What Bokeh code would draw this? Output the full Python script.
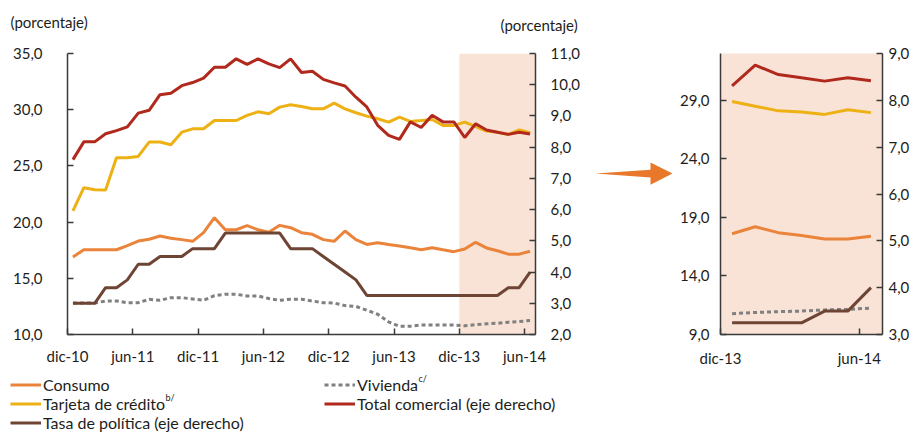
import numpy as np
from bokeh.plotting import figure
from bokeh.models import (Range1d, LinearAxis, FixedTicker, CustomJSTickFormatter, BoxAnnotation,
                          Legend, LegendItem, ColumnDataSource)
from bokeh.core.properties import value
from bokeh.layouts import row, column
from bokeh.embed import file_html
from bokeh.resources import INLINE

# ---------------- data (monthly, dic-10 .. jun-14) ----------------
tick_labels = ["dic-10", "jun-11", "dic-11", "jun-12", "dic-12", "jun-13", "dic-13", "jun-14"]
zoom_tick_labels = ["dic-13", "jun-14"]

consumo = [16.9, 17.54, 17.54, 17.54, 17.54, 17.9, 18.31, 18.47, 18.76, 18.56, 18.44, 18.29, 19.06,
           20.39, 19.32, 19.32, 19.68, 19.32, 19.09, 19.71, 19.5, 19.06, 18.91, 18.44, 18.29, 19.21,
           18.44, 18.01, 18.16, 18.01, 17.87, 17.72, 17.54, 17.72, 17.54, 17.37, 17.6, 18.2, 17.7,
           17.45, 17.15, 17.15, 17.4]
tarjeta = [21.0, 23.06, 22.88, 22.85, 25.72, 25.72, 25.84, 27.12, 27.12, 26.88, 28.0, 28.3, 28.3,
           29.04, 29.04, 29.04, 29.49, 29.81, 29.64, 30.23, 30.44, 30.29, 30.08, 30.08, 30.58, 30.08,
           29.73, 29.43, 29.19, 28.89, 29.34, 28.96, 29.04, 29.13, 28.6, 28.6, 28.9, 28.5, 28.1,
           28.0, 27.8, 28.2, 27.95]
vivienda = [12.8, 12.8, 12.8, 12.98, 12.98, 12.83, 12.83, 13.13, 13.04, 13.28, 13.28, 13.16, 13.04,
            13.46, 13.58, 13.58, 13.43, 13.43, 13.2, 13.04, 13.14, 13.13, 12.98, 12.83, 12.8, 12.57,
            12.5, 12.16, 11.8, 11.12, 10.73, 10.73, 10.85, 10.85, 10.85, 10.85, 10.78, 10.88, 10.95,
            11.0, 11.1, 11.15, 11.25]
tasa = [3.0, 3.0, 3.0, 3.5, 3.5, 3.75, 4.25, 4.25, 4.5, 4.5, 4.5, 4.75, 4.75, 4.75, 5.25, 5.25, 5.25,
        5.25, 5.25, 5.25, 4.75, 4.75, 4.75, 4.5, 4.25, 4.0, 3.75, 3.25, 3.25, 3.25, 3.25, 3.25, 3.25,
        3.25, 3.25, 3.25, 3.25, 3.25, 3.25, 3.25, 3.5, 3.5, 4.0]
total_comercial = [7.6, 8.17, 8.17, 8.43, 8.53, 8.65, 9.09, 9.18, 9.68, 9.73, 9.97, 10.07, 10.21,
                   10.56, 10.56, 10.83, 10.65, 10.83, 10.67, 10.55, 10.83, 10.39, 10.43, 10.17,
                   10.06, 9.96, 9.6, 9.29, 8.7, 8.38, 8.25, 8.81, 8.63, 9.02, 8.81, 8.81, 8.31, 8.75,
                   8.55, 8.48, 8.41, 8.48, 8.42]
zoom_start = 36  # dic-13

series_names = ["Consumo", "Tarjeta de crédito", "Tasa de política (eje derecho)", "Vivienda",
                "Total comercial (eje derecho)"]
axis_title = "(porcentaje)"

# ---------------- style ----------------
FONT = "Lato"
TXT = "#1d1d1b"
AX = "#3a3a3a"
C_CONS = "#E9843A"
C_TARJ = "#EDB114"
C_TASA = "#6E4534"
C_VIV = "#808080"
C_TOT = "#B0291C"
C_ARROW = "#E8782A"
SHADE = "#F9E3D6"
LW = 3
DOT = "4 3"

fmt = CustomJSTickFormatter(code="return tick.toFixed(1).replace('.', ',');")


def style_axis(ax, standoff):
    ax.axis_line_color = AX
    ax.axis_line_width = 1.5
    ax.major_tick_line_color = AX
    ax.major_tick_line_width = 1.5
    ax.major_tick_in = 6
    ax.major_tick_out = 0
    ax.minor_tick_line_color = None
    ax.major_label_text_font = FONT
    ax.major_label_text_font_size = "15px"
    ax.major_label_text_color = TXT
    ax.major_label_standoff = standoff


def blank(fig):
    fig.outline_line_color = None
    fig.xgrid.visible = False
    fig.ygrid.visible = False
    return fig


# ---------------- header with the two axis titles ----------------
head = blank(figure(width=918, height=40, x_range=Range1d(0, 918), y_range=Range1d(40, 0),
                    x_axis_type=None, y_axis_type=None, output_backend="svg",
                    toolbar_location=None, min_border=0))
head.text(x=[10, 500], y=[21, 24.5], text=[axis_title, axis_title], text_font=value(FONT),
          text_font_size="15px", text_color=TXT, text_baseline="middle", text_align="left")

# ---------------- left (main) chart ----------------
n = len(consumo)
src = ColumnDataSource(dict(x=np.arange(n), consumo=consumo, tarjeta=tarjeta, vivienda=vivienda,
                            tasa=tasa, total=total_comercial))

p = blank(figure(width=590, height=330, x_range=Range1d(-0.5, n - 0.5), y_range=Range1d(10, 35),
                 output_backend="svg", toolbar_location=None,
                 min_border_left=67, min_border_right=55, min_border_top=13, min_border_bottom=36))
p.extra_y_ranges = {"right": Range1d(2, 11)}

p.add_layout(BoxAnnotation(left=zoom_start - 0.5, right=n - 0.5, fill_color=SHADE, fill_alpha=1,
                           line_color=None, level="underlay"))

p.line("x", "vivienda", source=src, line_color=C_VIV, line_width=LW, line_dash=DOT)
p.line("x", "consumo", source=src, line_color=C_CONS, line_width=LW)
p.line("x", "tasa", source=src, line_color=C_TASA, line_width=LW, y_range_name="right")
p.line("x", "tarjeta", source=src, line_color=C_TARJ, line_width=LW)
p.line("x", "total", source=src, line_color=C_TOT, line_width=LW, y_range_name="right")

yl = p.yaxis[0]
yl.ticker = FixedTicker(ticks=[10, 15, 20, 25, 30, 35])
yl.formatter = fmt
style_axis(yl, 25)

yr = LinearAxis(y_range_name="right", ticker=FixedTicker(ticks=list(range(2, 12))), formatter=fmt)
style_axis(yr, 15)
p.add_layout(yr, "right")

xa = p.xaxis[0]
xa.ticker = FixedTicker(ticks=[-0.5 + 6 * k for k in range(len(tick_labels))])
xa.formatter = CustomJSTickFormatter(args=dict(labels=tick_labels),
                                     code="return labels[Math.round((tick + 0.5) / 6)];")
style_axis(xa, 12)

# ---------------- arrow between the panels ----------------
arr = blank(figure(width=86, height=330, x_range=Range1d(0, 86), y_range=Range1d(330, 0),
                   x_axis_type=None, y_axis_type=None, output_backend="svg",
                   toolbar_location=None, min_border=0))
arr.patch(x=[5, 60, 60, 82, 60, 60], y=[141, 136.5, 128, 141, 154, 145.5],
          fill_color=C_ARROW, line_color=None)

# ---------------- right (zoom) chart ----------------
zsrc = ColumnDataSource(dict(x=np.arange(n - zoom_start), consumo=consumo[zoom_start:],
                             tarjeta=tarjeta[zoom_start:], vivienda=vivienda[zoom_start:],
                             tasa=tasa[zoom_start:], total=total_comercial[zoom_start:]))
m = n - zoom_start
q = blank(figure(width=242, height=330, x_range=Range1d(-0.5, m - 0.5), y_range=Range1d(9, 33),
                 output_backend="svg", toolbar_location=None,
                 min_border_left=44, min_border_right=36, min_border_top=13, min_border_bottom=35))
q.extra_y_ranges = {"right": Range1d(3, 9)}
q.background_fill_color = SHADE

q.line("x", "vivienda", source=zsrc, line_color=C_VIV, line_width=LW, line_dash=DOT)
q.line("x", "consumo", source=zsrc, line_color=C_CONS, line_width=LW)
q.line("x", "tasa", source=zsrc, line_color=C_TASA, line_width=LW, y_range_name="right")
q.line("x", "tarjeta", source=zsrc, line_color=C_TARJ, line_width=LW)
q.line("x", "total", source=zsrc, line_color=C_TOT, line_width=LW, y_range_name="right")

ql = q.yaxis[0]
ql.ticker = FixedTicker(ticks=[9, 14, 19, 24, 29])
ql.formatter = fmt
style_axis(ql, 11)

qr = LinearAxis(y_range_name="right", ticker=FixedTicker(ticks=list(range(3, 10))), formatter=fmt)
style_axis(qr, 6)
q.add_layout(qr, "right")

qx = q.xaxis[0]
qx.ticker = FixedTicker(ticks=[-0.5, m - 1.5])
qx.formatter = CustomJSTickFormatter(args=dict(labels=zoom_tick_labels),
                                     code="return tick < 0 ? labels[0] : labels[1];")
style_axis(qx, 14)

# ---------------- legend panel ----------------
lg = blank(figure(width=918, height=64, x_range=Range1d(0, 918), y_range=Range1d(64, 0),
                  x_axis_type=None, y_axis_type=None, output_backend="svg",
                  toolbar_location=None, min_border=0))
styles = [dict(line_color=C_CONS), dict(line_color=C_TARJ), dict(line_color=C_TASA),
          dict(line_color=C_VIV, line_dash=DOT), dict(line_color=C_TOT)]
# legend-only renderers (a single NaN point: nothing is drawn in the panel)
rends = [lg.line(x=[np.nan], y=[np.nan], line_width=LW, **s) for s in styles]
leg = Legend(items=[LegendItem(label=nm, renderers=[r]) for nm, r in zip(series_names, rends)],
             location=(10, 2), orientation="vertical", nrows=3,
             border_line_color=None, background_fill_alpha=0, padding=0, margin=0, spacing=0,
             glyph_width=31, glyph_height=17, label_standoff=2, label_width=281, label_height=17,
             label_text_font=FONT, label_text_font_size="16px", label_text_color=TXT)
lg.add_layout(leg, "center")
lg.text(x=[165, 418], y=[27, 7.5], text=["b/", "c/"], text_font=value(FONT),
        text_font_size="9px", text_color=TXT, text_baseline="middle", text_align="left")

layout = column(head, row(p, arr, q, spacing=0), lg, spacing=0)
open("out.html", "w").write(file_html(layout, INLINE))
